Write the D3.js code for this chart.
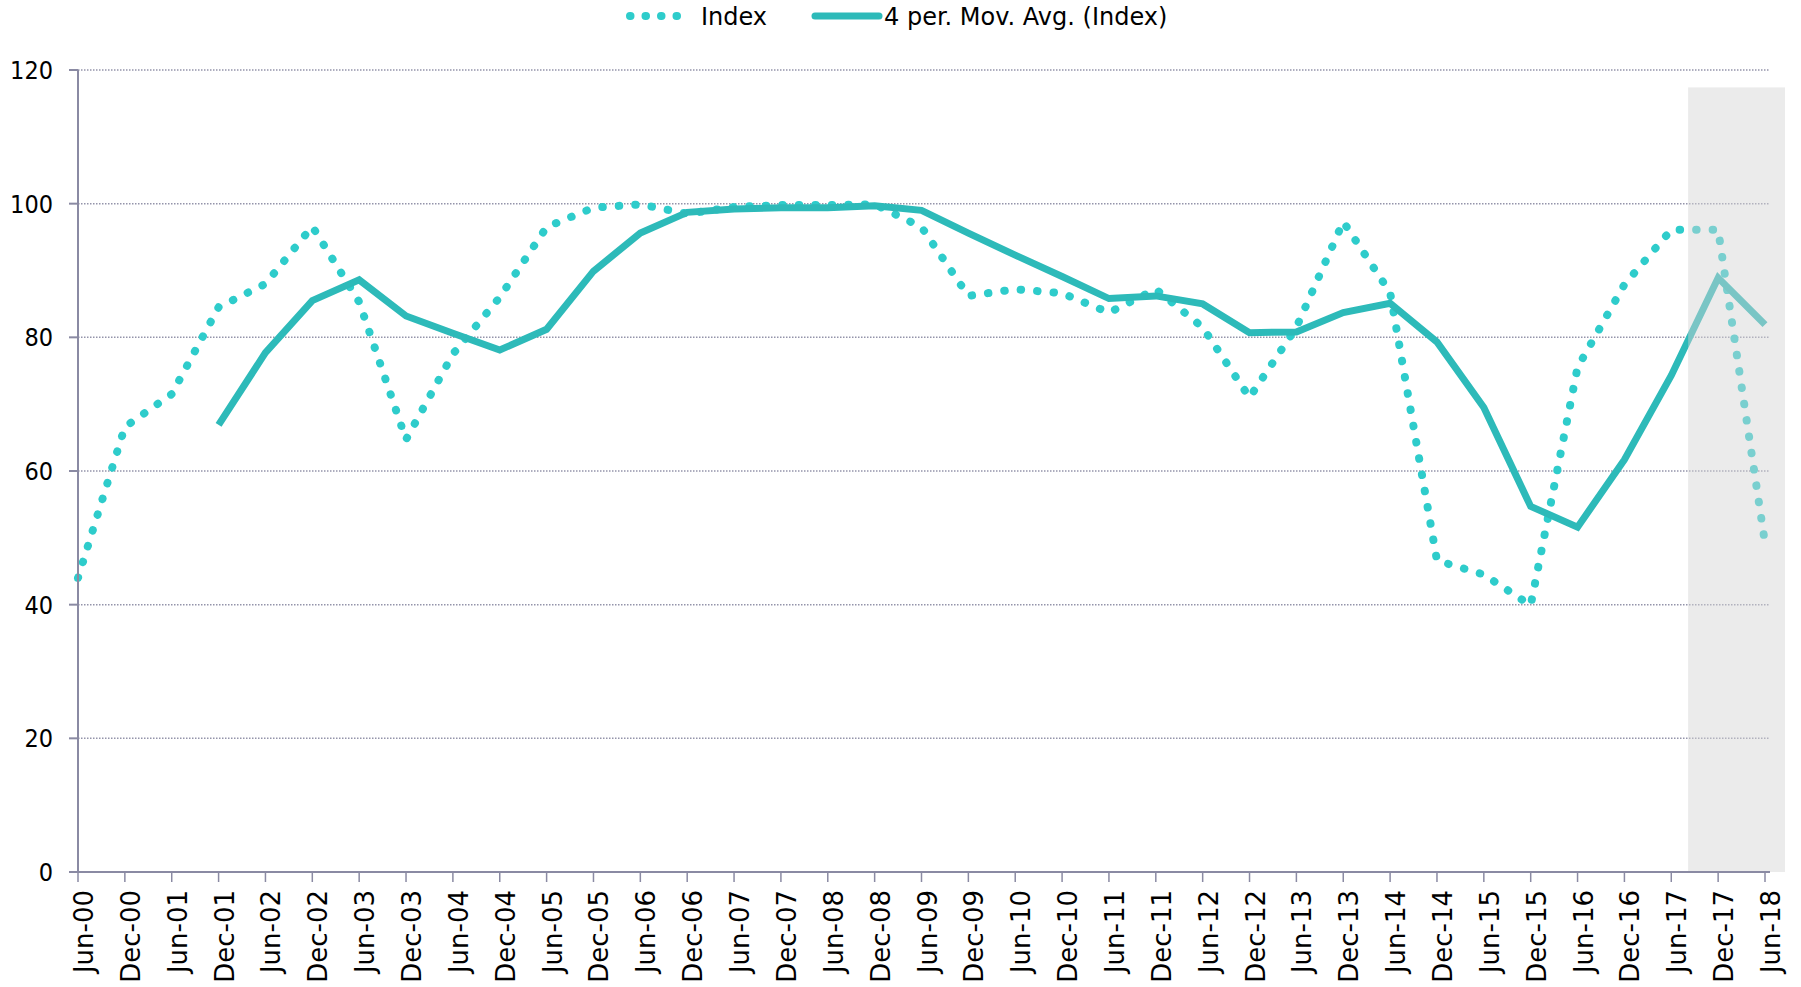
<!DOCTYPE html>
<html>
<head>
<meta charset="utf-8">
<script src="https://cdn.jsdelivr.net/npm/d3@7"></script>
<style>
    body { margin: 0; background: #fff; }
    svg { display: block; }
</style>
</head>
<body>
<div id="root"></div>
<script>
// half-yearly categories
const categories = [
    'Jun-00', 'Dec-00', 'Jun-01', 'Dec-01', 'Jun-02', 'Dec-02', 'Jun-03', 'Dec-03',
    'Jun-04', 'Dec-04', 'Jun-05', 'Dec-05', 'Jun-06', 'Dec-06', 'Jun-07', 'Dec-07',
    'Jun-08', 'Dec-08', 'Jun-09', 'Dec-09', 'Jun-10', 'Dec-10', 'Jun-11', 'Dec-11',
    'Jun-12', 'Dec-12', 'Jun-13', 'Dec-13', 'Jun-14', 'Dec-14', 'Jun-15', 'Dec-15',
    'Jun-16', 'Dec-16', 'Jun-17', 'Dec-17', 'Jun-18'
]

// Index values
const indexValues = [
    44.0, 66.6, 71.5, 84.5, 88.0, 96.6, 85.3, 64.7,
    77.5, 86.0, 96.5, 99.4, 99.9, 98.5, 99.5, 99.8,
    99.8, 99.9, 96.5, 86.2, 87.2, 86.6, 83.7, 87.2,
    81.5, 71.0, 81.5, 97.3, 86.7, 46.6, 44.5, 39.9,
    75.5, 87.9, 96.1, 96.1, 49.2
]

// 4 period moving average
const movAvgValues = [
    null, null, null, 66.9, 77.7, 85.5, 88.6, 83.2,
    80.6, 78.1, 81.2, 89.9, 95.6, 98.7, 99.2, 99.4,
    99.4, 99.7, 99.0, 95.6, 92.3, 89.1, 85.8, 86.2,
    85.0, 80.7, 80.8, 83.7, 85.1, 79.3, 69.5, 54.7,
    51.6, 61.7, 74.3, 88.9, 81.9
]

const yTicks = [0, 20, 40, 60, 80, 100, 120]
const seriesNames = ['Index', '4 per. Mov. Avg. (Index)']

const width = 1801
const height = 987
const lineColor = '#2dbab9'
const dotColor = '#2ecccb'
const axisColor = '#8a8aa3'

const svg = d3.select('#root').append('svg')
    .attr('width', width)
    .attr('height', height)

const x = d3.scalePoint()
    .domain(categories)
    .range([78, 1765])

const y = d3.scaleLinear()
    .domain([0, 120])
    .range([872, 70])

const plotRight = 1770

// gridlines
svg.append('g')
    .selectAll('line')
    .data(yTicks.filter(d => d > 0))
    .enter().append('line')
    .attr('x1', 78)
    .attr('x2', plotRight)
    .attr('y1', d => y(d))
    .attr('y2', d => y(d))
    .style('stroke', '#9494aa')
    .style('stroke-width', 1.5)
    .style('stroke-dasharray', '1.5,1.5')

// lines
const indexLine = d3.line()
    .x((d, i) => x(categories[i]))
    .y(d => y(d))

const avgLine = d3.line()
    .defined(d => d !== null)
    .x((d, i) => x(categories[i]))
    .y(d => y(d))

svg.append('path')
    .datum(indexValues)
    .attr('d', indexLine)
    .style('fill', 'none')
    .style('stroke', dotColor)
    .style('stroke-width', 8)
    .style('stroke-linecap', 'round')
    .style('stroke-dasharray', '0.5,16')

svg.append('path')
    .datum(movAvgValues)
    .attr('d', avgLine)
    .style('fill', 'none')
    .style('stroke', lineColor)
    .style('stroke-width', 7)
    .style('stroke-linejoin', 'miter')

// shaded forecast area on top of the last points
const step = x.step()
svg.append('rect')
    .attr('x', x('Jun-17') + step * 0.36)
    .attr('y', y(117.4))
    .attr('width', x('Jun-18') + 20 - (x('Jun-17') + step * 0.36))
    .attr('height', y(0) - y(117.4))
    .style('fill', '#d4d4d4')
    .style('opacity', 0.46)

// y axis
const yAxis = svg.append('g')
yAxis.append('line')
    .attr('x1', 78).attr('x2', 78)
    .attr('y1', y(120)).attr('y2', y(0))
    .style('stroke', axisColor)
    .style('stroke-width', 2)
yAxis.selectAll('.ytick')
    .data(yTicks)
    .enter().append('line')
    .attr('x1', 69).attr('x2', 78)
    .attr('y1', d => y(d)).attr('y2', d => y(d))
    .style('stroke', axisColor)
    .style('stroke-width', 2)
yAxis.selectAll('.ylabel')
    .data(yTicks)
    .enter().append('text')
    .attr('x', 53)
    .attr('y', d => y(d))
    .attr('dy', '0.36em')
    .style('text-anchor', 'end')
    .style('font-family', '"DejaVu Sans Condensed", "DejaVu Sans", sans-serif')
    .style('font-size', '25px')
    .style('fill', '#000')
    .text(d => d)

// x axis
const xAxis = svg.append('g')
xAxis.append('line')
    .attr('x1', 78).attr('x2', plotRight)
    .attr('y1', y(0)).attr('y2', y(0))
    .style('stroke', axisColor)
    .style('stroke-width', 2)
xAxis.selectAll('.xtick')
    .data(categories)
    .enter().append('line')
    .attr('x1', d => x(d)).attr('x2', d => x(d))
    .attr('y1', y(0)).attr('y2', y(0) + 10)
    .style('stroke', axisColor)
    .style('stroke-width', 1.5)
xAxis.selectAll('.xlabel')
    .data(categories)
    .enter().append('text')
    .attr('transform', d => 'translate(' + x(d) + ',890) rotate(-90)')
    .attr('dy', 15)
    .style('text-anchor', 'end')
    .style('font-family', '"DejaVu Sans", sans-serif')
    .style('font-size', '26px')
    .style('fill', '#000')
    .text(d => d)

// legend
const legend = svg.append('g')
    .style('font-family', '"DejaVu Sans", sans-serif')
    .style('font-size', '24px')

legend.append('line')
    .attr('x1', 630).attr('x2', 692)
    .attr('y1', 16).attr('y2', 16)
    .style('stroke', dotColor)
    .style('stroke-width', 8)
    .style('stroke-linecap', 'round')
    .style('stroke-dasharray', '0.5,15')
legend.append('text')
    .attr('x', 701).attr('y', 25)
    .text(seriesNames[0])

legend.append('line')
    .attr('x1', 815).attr('x2', 879)
    .attr('y1', 16).attr('y2', 16)
    .style('stroke', lineColor)
    .style('stroke-width', 7)
    .style('stroke-linecap', 'round')
legend.append('text')
    .attr('x', 884).attr('y', 25)
    .text(seriesNames[1])
</script>
</body>
</html>
